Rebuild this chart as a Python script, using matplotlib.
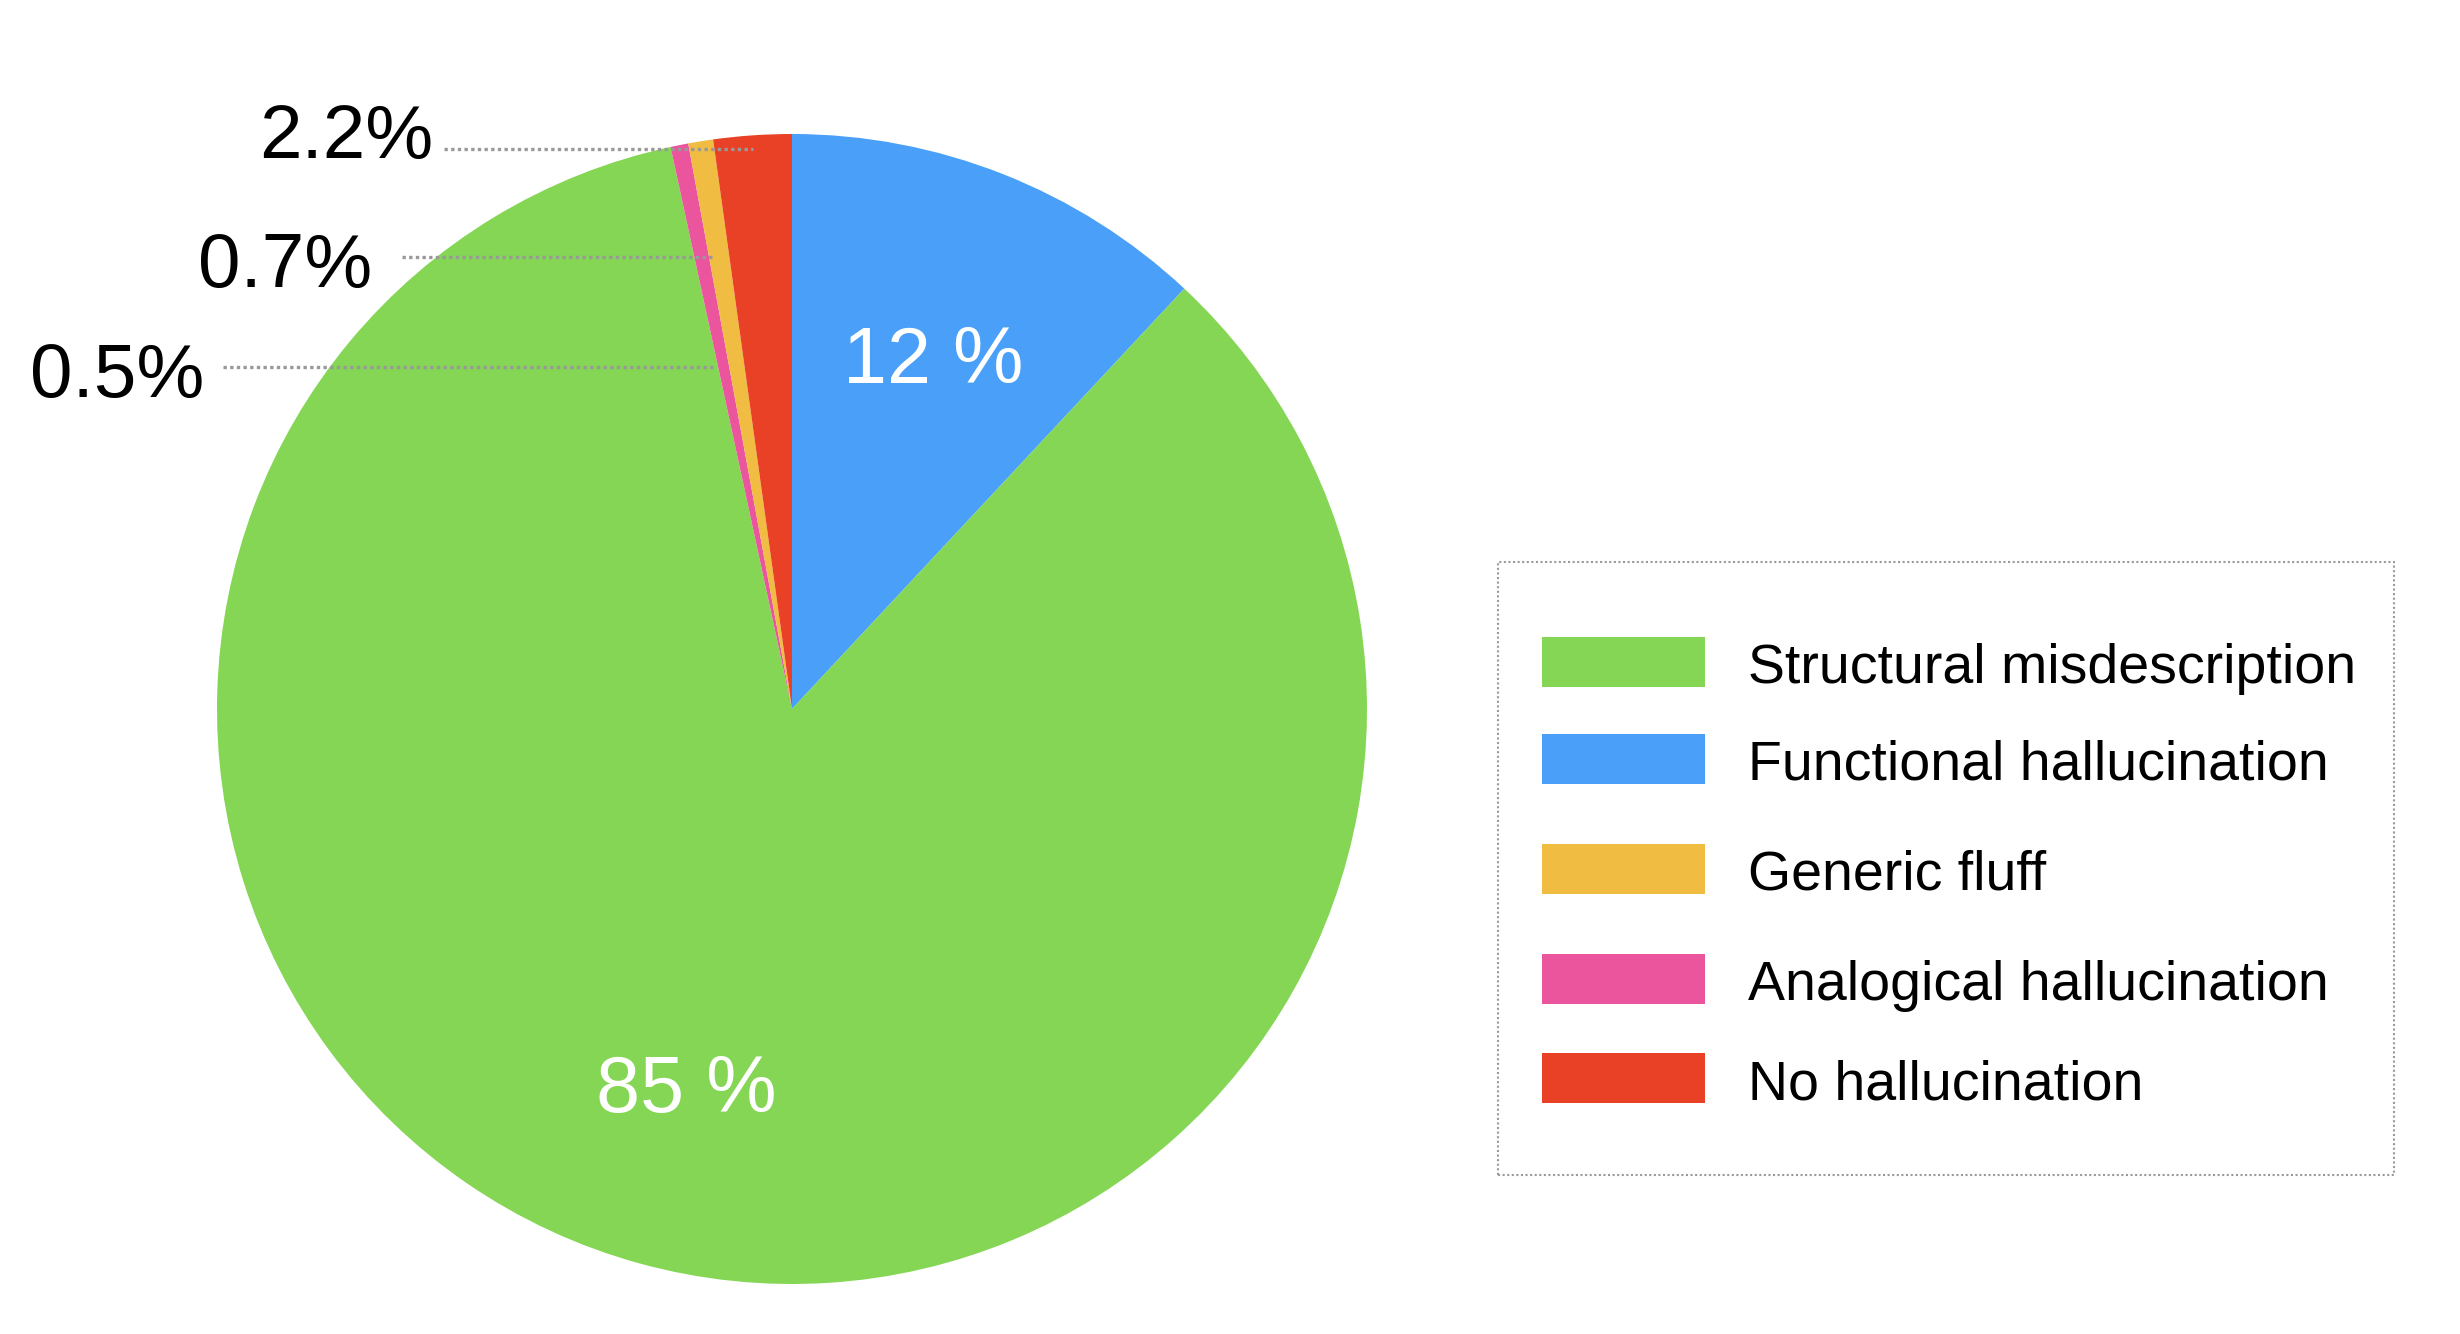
import matplotlib
matplotlib.use("Agg")
import matplotlib.pyplot as plt
from matplotlib.patches import Rectangle

# ---- data ----
categories = ["Functional hallucination", "Structural misdescription",
              "Analogical hallucination", "Generic fluff", "No hallucination"]
values = [12, 85, 0.5, 0.7, 2.2]
colors = ["#4AA0F8", "#84D654", "#EA559E", "#F0BC42", "#E94126"]
inner_labels = ["12 %", "85 %"]
outer_labels = ["0.5%", "0.7%", "2.2%"]
legend_order = ["Structural misdescription", "Functional hallucination",
                "Generic fluff", "Analogical hallucination", "No hallucination"]

W, H = 2460, 1334
fig = plt.figure(figsize=(W / 100, H / 100), dpi=100)
ax = fig.add_axes([0, 0, 1, 1])

def Y(y):  # pixel-from-top -> data y
    return H - y

ax.pie(values, colors=colors, startangle=90, counterclock=False,
       center=(792, Y(709)), radius=575,
       wedgeprops=dict(linewidth=0, antialiased=True))
ax.set_xlim(0, W)
ax.set_ylim(0, H)
ax.set_aspect("equal")
ax.axis("off")

regular = ["Liberation Sans", "DejaVu Sans"]

# inner labels
ax.text(933, Y(383), inner_labels[0], color="white", fontsize=57,
        family=regular, ha="center", va="baseline")
ax.text(686, Y(1112), inner_labels[1], color="white", fontsize=57,
        family=regular, ha="center", va="baseline")

# outer labels with dotted leader lines
outer_pos = [  # (text right x, baseline y, line x0, line x1, line y)
    (204, 397, 223, 715, 367),
    (372, 287, 402, 714, 257),
    (433, 158, 444, 753, 149),
]
for lab, (tx, ty, lx0, lx1, ly) in zip(outer_labels, outer_pos):
    ax.text(tx, Y(ty), lab, color="black", fontsize=55, family=regular,
            ha="right", va="baseline")
    ax.plot([lx0, lx1], [Y(ly), Y(ly)], color="#999999", lw=2.4,
            linestyle=(0, (1, 1)), solid_capstyle="butt")

# legend (manual)
ax.add_patch(Rectangle((1498, Y(1175)), 2394 - 1498, 1175 - 562, fill=False,
                       edgecolor="#9a9a9a", lw=1.5, linestyle=(0, (1, 1.2))))
leg_y = [662, 759, 869, 979, 1078]
cmap = dict(zip(categories, colors))
for name, yc in zip(legend_order, leg_y):
    ax.add_patch(Rectangle((1542, Y(yc + 25)), 163, 50, facecolor=cmap[name],
                           edgecolor="none"))
    ax.text(1748, Y(yc + 21), name, fontsize=40, family=regular,
            ha="left", va="baseline", color="black")

fig.savefig("out.png", dpi=100, facecolor="white")
